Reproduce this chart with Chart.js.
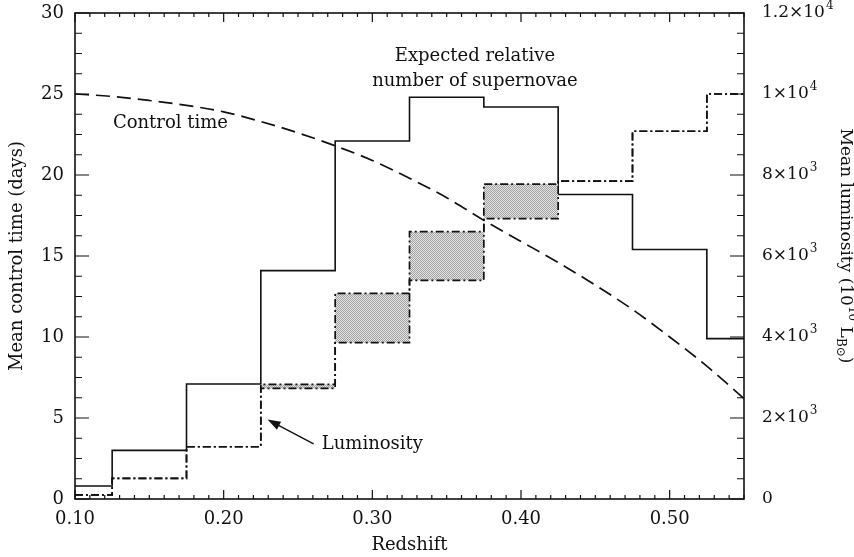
<!DOCTYPE html>
<html>
<head>
<meta charset="utf-8">
<title>Redshift</title>
<script src="https://cdn.jsdelivr.net/npm/chart.js@4.4.1/dist/chart.umd.min.js"></script>
<style>
  html, body { margin: 0; padding: 0; background: #fff; }
  canvas { display: block; }
</style>
</head>
<body>
<canvas id="snChart" width="854" height="557"></canvas>
<script>
// redshift bins: one value per bin, edges shared by both histograms
const binEdges = [0.10, 0.125, 0.175, 0.225, 0.275, 0.325, 0.375, 0.425, 0.475, 0.525, 0.55]
const expectedSN = [0.8, 3.0, 7.1, 14.1, 22.1, 24.8, 24.2, 18.8, 15.4, 9.9]
// mean luminosity (10^10 L_B), low/high edge of the shaded range
const lumLow = [100, 510, 1290, 2730, 3860, 5400, 6925, 7850, 9080, 10000]
const lumHigh = [100, 510, 1290, 2830, 5075, 6600, 7775, 7850, 9080, 10000]

// control time curve (days)
const ctRedshift = [0.10, 0.125, 0.15, 0.175, 0.20, 0.225, 0.25, 0.275, 0.30, 0.325,
  0.35, 0.375, 0.40, 0.425, 0.45, 0.475, 0.50, 0.525, 0.55]
const ctDays = [25.0, 24.85, 24.6, 24.3, 23.9, 23.3, 22.6, 21.8, 20.9, 19.8,
  18.6, 17.2, 15.9, 14.6, 13.2, 11.7, 10.0, 8.2, 6.2]

const xTickValues = [0.1, 0.2, 0.3, 0.4, 0.5]
const leftTickValues = [0, 5, 10, 15, 20, 25, 30]
const rightTickValues = [0, 2000, 4000, 6000, 8000, 10000, 12000]
const rightTickLabels = [["0", ""], ["2×10", "3"], ["4×10", "3"], ["6×10", "3"],
  ["8×10", "3"], ["1×10", "4"], ["1.2×10", "4"]]

const ink = "#111"
const serif = "'DejaVu Serif', serif"

// histogram -> step points (value held until the next edge)
function steps(values) {
  const pts = values.map((v, i) => ({ x: binEdges[i], y: v }))
  pts.push({ x: binEdges[binEdges.length - 1], y: values[values.length - 1] })
  return pts
}

// stippled grey for the luminosity range
function stipple() {
  const c = document.createElement("canvas")
  c.width = 2
  c.height = 2
  const g = c.getContext("2d")
  g.fillStyle = "#e2e2e2"
  g.fillRect(0, 0, 2, 2)
  g.fillStyle = "#a4a4a4"
  g.fillRect(0, 0, 1, 1)
  g.fillRect(1, 1, 1, 1)
  return document.getElementById("snChart").getContext("2d").createPattern(c, "repeat")
}

// fixed axis box sizes, no extra room for overhanging labels
function fixBox(size) {
  return (scale) => {
    if (scale.isHorizontal()) scale.height = size
    else scale.width = size
    scale.paddingTop = 0
    scale.paddingBottom = 0
    scale.paddingLeft = 0
    scale.paddingRight = 0
  }
}

const frameAndTicks = {
  id: "frameAndTicks",
  afterDraw(chart) {
    const { ctx, chartArea: a, scales: { x, y2 } } = chart
    ctx.save()
    ctx.strokeStyle = ink
    ctx.lineWidth = 1.6
    ctx.strokeRect(a.left, a.top, a.right - a.left, a.bottom - a.top)

    ctx.lineWidth = 1.2
    ctx.beginPath()
    // redshift ticks every 0.01, longer on the tenths
    for (let i = 10; i <= 55; i++) {
      const px = x.getPixelForValue(i / 100)
      const len = i % 10 === 0 ? 9 : 4
      ctx.moveTo(px, a.bottom)
      ctx.lineTo(px, a.bottom - len)
      ctx.moveTo(px, a.top)
      ctx.lineTo(px, a.top + len)
    }
    // side ticks every 500 (1.25 days), longer every 2000
    for (let i = 0; i <= 24; i++) {
      const py = y2.getPixelForValue(i * 500)
      const len = i % 4 === 0 ? 14 : 7
      ctx.moveTo(a.left, py)
      ctx.lineTo(a.left + len, py)
      ctx.moveTo(a.right, py)
      ctx.lineTo(a.right - len, py)
    }
    ctx.stroke()

    // right axis labels with exponents
    ctx.fillStyle = ink
    ctx.textBaseline = "middle"
    rightTickValues.forEach((v, i) => {
      const py = y2.getPixelForValue(v)
      const [base, exp] = rightTickLabels[i]
      const lx = a.right + 18
      ctx.font = "17px " + serif
      ctx.fillText(base, lx, py)
      const w = ctx.measureText(base).width
      ctx.font = "12px " + serif
      ctx.fillText(exp, lx + w + 1, py - 7)
    })

    // right axis title, rotated clockwise
    const parts = [
      ["Mean luminosity (10", 17, 0],
      ["10", 12, -7],
      [" L", 17, 0],
      ["B⊙", 12, 5],
      [")", 17, 0],
    ]
    let total = 0
    parts.forEach((p) => {
      ctx.font = p[1] + "px " + serif
      total += ctx.measureText(p[0]).width
    })
    ctx.translate(845, (a.top + a.bottom) / 2 - 10)
    ctx.rotate(Math.PI / 2)
    let cx = -total / 2
    parts.forEach((p) => {
      ctx.font = p[1] + "px " + serif
      ctx.fillText(p[0], cx, p[2])
      cx += ctx.measureText(p[0]).width
    })
    ctx.restore()
  },
}

// text labels and the arrow inside the plot
const notes = [
  { text: "Control time", x: 0.1255, y: 23.2, align: "left" },
  { text: "Expected relative", x: 0.369, y: 27.35, align: "center" },
  { text: "number of supernovae", x: 0.369, y: 25.8, align: "center" },
  { text: "Luminosity", x: 0.266, y: 3.35, align: "left" },
]
const arrowFrom = { x: 0.2605, y: 3.4 }
const arrowTo = { x: 0.2295, y: 4.9 }

const annotations = {
  id: "annotations",
  afterDatasetsDraw(chart) {
    const { ctx, scales: { x, y } } = chart
    ctx.save()
    ctx.fillStyle = ink
    ctx.strokeStyle = ink
    ctx.font = "18px " + serif
    ctx.textBaseline = "middle"
    notes.forEach((n) => {
      ctx.textAlign = n.align
      ctx.fillText(n.text, x.getPixelForValue(n.x), y.getPixelForValue(n.y))
    })

    const x0 = x.getPixelForValue(arrowFrom.x)
    const y0 = y.getPixelForValue(arrowFrom.y)
    const x1 = x.getPixelForValue(arrowTo.x)
    const y1 = y.getPixelForValue(arrowTo.y)
    const ang = Math.atan2(y1 - y0, x1 - x0)
    ctx.lineWidth = 1.4
    ctx.beginPath()
    ctx.moveTo(x0, y0)
    ctx.lineTo(x1 - 6 * Math.cos(ang), y1 - 6 * Math.sin(ang))
    ctx.stroke()
    ctx.beginPath()
    ctx.moveTo(x1, y1)
    ctx.lineTo(x1 - 13 * Math.cos(ang) + 4.5 * Math.sin(ang), y1 - 13 * Math.sin(ang) - 4.5 * Math.cos(ang))
    ctx.lineTo(x1 - 13 * Math.cos(ang) - 4.5 * Math.sin(ang), y1 - 13 * Math.sin(ang) + 4.5 * Math.cos(ang))
    ctx.closePath()
    ctx.fill()
    ctx.restore()
  },
}

const dashDot = [8, 3, 2, 3]

new Chart(document.getElementById("snChart"), {
  type: "line",
  data: {
    datasets: [
      {
        label: "Luminosity (low)",
        data: steps(lumLow),
        yAxisID: "y2",
        stepped: "before",
        borderColor: ink,
        borderWidth: 1.7,
        borderDash: dashDot,
        pointRadius: 0,
        fill: false,
      },
      {
        label: "Luminosity (high)",
        data: steps(lumHigh),
        yAxisID: "y2",
        stepped: "before",
        borderColor: ink,
        borderWidth: 1.7,
        borderDash: dashDot,
        pointRadius: 0,
        fill: "-1",
        backgroundColor: stipple(),
      },
      {
        label: "Expected relative number of supernovae",
        data: steps(expectedSN),
        yAxisID: "y",
        stepped: "before",
        borderColor: ink,
        borderWidth: 1.6,
        pointRadius: 0,
        fill: false,
      },
      {
        label: "Control time",
        data: ctRedshift.map((z, i) => ({ x: z, y: ctDays[i] })),
        yAxisID: "y",
        borderColor: ink,
        borderWidth: 1.7,
        borderDash: [14, 7],
        cubicInterpolationMode: "monotone",
        pointRadius: 0,
        fill: false,
      },
    ],
  },
  options: {
    responsive: false,
    animation: false,
    layout: { autoPadding: false, padding: { top: 13, left: 0, right: 0, bottom: 0 } },
    plugins: { legend: { display: false }, tooltip: { enabled: false } },
    scales: {
      x: {
        type: "linear",
        min: 0.1,
        max: 0.55,
        afterBuildTicks: (scale) => {
          scale.ticks = xTickValues.map((value) => ({ value }))
        },
        afterFit: fixBox(58),
        grid: { display: false, drawTicks: false },
        border: { display: false },
        ticks: {
          padding: 10,
          color: ink,
          font: { family: serif, size: 18 },
          callback: (v) => Number(v).toFixed(2),
        },
        title: {
          display: true,
          text: "Redshift",
          color: ink,
          font: { family: serif, size: 18 },
          padding: { top: 0, bottom: 1 },
        },
      },
      y: {
        position: "left",
        min: 0,
        max: 30,
        afterBuildTicks: (scale) => {
          scale.ticks = leftTickValues.map((value) => ({ value }))
        },
        afterFit: fixBox(75),
        grid: { display: false, drawTicks: false },
        border: { display: false },
        ticks: {
          padding: 11,
          color: ink,
          font: { family: serif, size: 18 },
        },
        title: {
          display: true,
          text: "Mean control time (days)",
          color: ink,
          font: { family: serif, size: 18 },
          padding: { top: 7, bottom: 0 },
        },
      },
      y2: {
        position: "right",
        min: 0,
        max: 12000,
        afterBuildTicks: (scale) => {
          scale.ticks = rightTickValues.map((value) => ({ value }))
        },
        afterFit: fixBox(110),
        grid: { display: false, drawTicks: false },
        border: { display: false },
        ticks: { display: false },
      },
    },
  },
  plugins: [annotations, frameAndTicks],
})
</script>
</body>
</html>
